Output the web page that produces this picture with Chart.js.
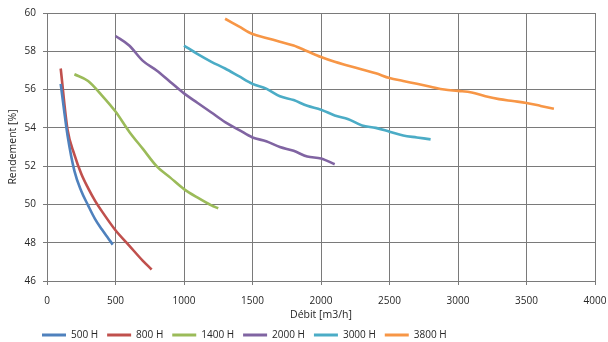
<!DOCTYPE html>
<html>
<head>
<meta charset="utf-8">
<script src="https://cdn.jsdelivr.net/npm/chart.js@4/dist/chart.umd.min.js"></script>
<style>
  html, body { margin: 0; padding: 0; background: #fff; }
  #wrap { width: 608px; height: 342px; }
</style>
</head>
<body>
<div id="wrap"><canvas id="chart" width="608" height="342"></canvas></div>
<script>
// Débit [m3/h] / Rendement [%]
const seriesNames = ["500 H", "800 H", "1400 H", "2000 H", "3000 H", "3800 H"];
const seriesColors = ["#4F81BD", "#C0504D", "#9BBB59", "#8064A2", "#4BACC6", "#F79646"];

const flow500 = [100, 125, 150, 200, 250, 300, 350, 400, 450, 480];
const eff500 = [56.3, 54.9, 53.6, 51.75, 50.7, 49.95, 49.25, 48.7, 48.2, 47.9];

const flow800 = [100, 150, 200, 250, 300, 350, 400, 500, 600, 700, 764];
const eff800 = [57.1, 53.9, 52.6, 51.6, 50.85, 50.2, 49.65, 48.65, 47.85, 47.05, 46.6];

const flow1400 = [200, 300, 400, 500, 600, 700, 800, 900, 1000, 1100, 1200, 1250];
const eff1400 = [56.8, 56.45, 55.7, 54.85, 53.8, 52.9, 52.0, 51.4, 50.8, 50.35, 49.95, 49.8];

const flow2000 = [500, 600, 700, 800, 900, 1000, 1100, 1200, 1300, 1400, 1500, 1600, 1700, 1800, 1900, 2000, 2100];
const eff2000 = [58.8, 58.3, 57.5, 57.0, 56.4, 55.8, 55.3, 54.8, 54.3, 53.9, 53.5, 53.3, 53.0, 52.8, 52.5, 52.4, 52.1];

const flow3000 = [1000, 1100, 1200, 1300, 1400, 1500, 1600, 1700, 1800, 1900, 2000, 2100, 2200, 2300, 2400, 2500, 2600, 2700, 2800];
const eff3000 = [58.3, 57.85, 57.45, 57.1, 56.7, 56.3, 56.05, 55.65, 55.45, 55.15, 54.95, 54.65, 54.45, 54.12, 54.0, 53.8, 53.6, 53.5, 53.4];

const flow3800 = [1300, 1400, 1500, 1600, 1700, 1800, 1900, 2000, 2100, 2200, 2300, 2400, 2500, 2600, 2700, 2800, 2900, 3000, 3100, 3200, 3300, 3400, 3500, 3600, 3700];
const eff3800 = [59.7, 59.3, 58.9, 58.7, 58.5, 58.3, 58.0, 57.7, 57.45, 57.25, 57.05, 56.85, 56.6, 56.45, 56.3, 56.15, 56.0, 55.93, 55.85, 55.65, 55.5, 55.4, 55.3, 55.15, 55.0];

const xTicks = [0, 500, 1000, 1500, 2000, 2500, 3000, 3500, 4000];
const yTicks = [46, 48, 50, 52, 54, 56, 58, 60];

const flows = [flow500, flow800, flow1400, flow2000, flow3000, flow3800];
const effs = [eff500, eff800, eff1400, eff2000, eff3000, eff3800];

const FONT = "'Open Sans', sans-serif";
const TEXT = "#262626";
const GRID = "#7a7a7a";

function toPoints(xs, ys) {
  return xs.map((x, i) => ({ x: x, y: ys[i] }));
}

const datasets = seriesNames.map((name, i) => ({
  label: name,
  data: toPoints(flows[i], effs[i]),
  showLine: true,
  borderColor: seriesColors[i],
  backgroundColor: seriesColors[i],
  borderWidth: 2.6,
  pointRadius: 0,
  pointHoverRadius: 0,
  cubicInterpolationMode: "monotone",
  fill: false
}));

// fixed legend height, then nudge it to where the reference puts it
const legendShift = {
  id: "legendShift",
  afterInit(chart) {
    const lg = chart.legend;
    if (!lg) return;
    const fit = lg.fit.bind(lg);
    lg.fit = function () {
      fit();
      this.height = 18;
    };
  },
  afterLayout(chart) {
    const lg = chart.legend;
    if (!lg) return;
    const dx = 33, dy = -3;
    lg.left += dx; lg.right += dx;
    lg.top += dy; lg.bottom += dy;
  }
};

new Chart(document.getElementById("chart"), {
  type: "scatter",
  data: { datasets },
  plugins: [legendShift],
  options: {
    responsive: false,
    animation: false,
    devicePixelRatio: 1,
    layout: { padding: { top: 13, right: 13, bottom: 0, left: 0 } },
    plugins: {
      tooltip: { enabled: false },
      legend: {
        position: "bottom",
        align: "start",
        labels: {
          font: { family: FONT, size: 10 },
          color: TEXT,
          boxWidth: 24,
          boxHeight: 3,
          padding: 9,
          generateLabels(chart) {
            return Chart.defaults.plugins.legend.labels.generateLabels(chart).map((l) => ({
              ...l,
              lineWidth: 0,
              fillStyle: l.strokeStyle
            }));
          }
        }
      }
    },
    scales: {
      x: {
        type: "linear",
        min: xTicks[0],
        max: xTicks[xTicks.length - 1],
        afterBuildTicks(scale) {
          scale.ticks = xTicks.map((v) => ({ value: v }));
        },
        afterFit(scale) {
          scale.height = 43;
          scale.paddingLeft = 0;
          scale.paddingRight = 0;
        },
        ticks: {
          font: { family: FONT, size: 10 },
          color: TEXT,
          padding: 10,
          maxRotation: 0,
          callback: (v) => String(v)
        },
        grid: { color: GRID, tickLength: 4 },
        border: { color: GRID },
        title: {
          display: true,
          text: "Débit [m3/h]",
          font: { family: FONT, size: 10.5 },
          color: TEXT,
          padding: { top: 1, bottom: 3 }
        }
      },
      y: {
        type: "linear",
        min: yTicks[0],
        max: yTicks[yTicks.length - 1],
        afterBuildTicks(scale) {
          scale.ticks = yTicks.map((v) => ({ value: v }));
        },
        afterFit(scale) {
          scale.width = 47;
          scale.paddingTop = 0;
          scale.paddingBottom = 0;
        },
        ticks: {
          font: { family: FONT, size: 10 },
          color: TEXT,
          padding: 7,
          callback: (v) => String(v)
        },
        grid: { color: GRID, tickLength: 4 },
        border: { color: GRID },
        title: {
          display: true,
          text: "Rendement [%]",
          font: { family: FONT, size: 10.5 },
          color: TEXT,
          padding: { top: 7, bottom: 0 }
        }
      }
    }
  }
});
</script>
</body>
</html>
